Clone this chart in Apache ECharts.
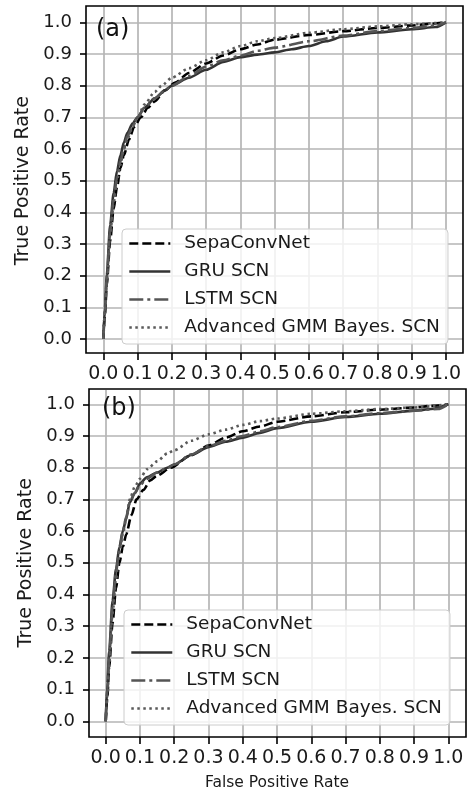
<!DOCTYPE html>
<html>
<head>
<meta charset="utf-8">
<script src="https://cdn.jsdelivr.net/npm/echarts@6/dist/echarts.min.js"></script>
<style>
html,body{margin:0;padding:0;background:#fff;}
#chart{width:471px;height:794px;}
</style>
</head>
<body>
<div id="chart"></div>
<script>
// ---------- data ----------
const seriesNames = ['SepaConvNet', 'GRU SCN', 'LSTM SCN', 'Advanced GMM Bayes. SCN'];
const panelLabels = ['(a)', '(b)'];
const xAxisTitle = 'False Positive Rate';
const yAxisTitle = 'True Positive Rate';

// panel (a)
const aSepaX = [0, 0.005, 0.01, 0.02, 0.03, 0.04, 0.05, 0.06, 0.075, 0.09, 0.11, 0.13, 0.15, 0.18, 0.21, 0.25, 0.3, 0.35, 0.4, 0.45, 0.5, 0.6, 0.7, 0.8, 0.9, 0.95, 1];
const aSepaY = [0, 0.08, 0.17, 0.31, 0.41, 0.48, 0.54, 0.58, 0.63, 0.67, 0.70, 0.73, 0.75, 0.785, 0.81, 0.84, 0.87, 0.895, 0.915, 0.93, 0.945, 0.96, 0.972, 0.982, 0.99, 0.995, 1];
const aGruX = [0, 0.005, 0.01, 0.02, 0.03, 0.04, 0.05, 0.06, 0.07, 0.085, 0.1, 0.12, 0.15, 0.18, 0.2, 0.25, 0.3, 0.35, 0.4, 0.45, 0.5, 0.55, 0.6, 0.65, 0.7, 0.8, 0.9, 0.97, 1];
const aGruY = [0, 0.1, 0.2, 0.36, 0.46, 0.53, 0.58, 0.62, 0.65, 0.68, 0.70, 0.73, 0.76, 0.785, 0.80, 0.825, 0.85, 0.875, 0.89, 0.898, 0.905, 0.915, 0.925, 0.94, 0.955, 0.968, 0.978, 0.985, 1];
const aLstmX = [0, 0.005, 0.01, 0.02, 0.03, 0.04, 0.05, 0.06, 0.07, 0.085, 0.1, 0.12, 0.15, 0.18, 0.2, 0.25, 0.3, 0.35, 0.4, 0.45, 0.5, 0.6, 0.7, 0.8, 0.9, 0.97, 1];
const aLstmY = [0, 0.09, 0.19, 0.34, 0.44, 0.51, 0.56, 0.6, 0.64, 0.67, 0.70, 0.73, 0.76, 0.785, 0.80, 0.83, 0.86, 0.88, 0.895, 0.91, 0.92, 0.94, 0.958, 0.972, 0.982, 0.99, 1];
const aGmmX = [0, 0.005, 0.01, 0.02, 0.03, 0.04, 0.05, 0.06, 0.07, 0.085, 0.1, 0.12, 0.15, 0.17, 0.2, 0.25, 0.3, 0.35, 0.4, 0.45, 0.5, 0.6, 0.7, 0.8, 0.9, 1];
const aGmmY = [0, 0.09, 0.18, 0.33, 0.43, 0.5, 0.55, 0.6, 0.63, 0.67, 0.70, 0.74, 0.78, 0.80, 0.825, 0.855, 0.88, 0.905, 0.925, 0.94, 0.95, 0.967, 0.978, 0.987, 0.994, 1];

// panel (b)
const bSepaX = [0, 0.005, 0.01, 0.02, 0.03, 0.04, 0.05, 0.06, 0.075, 0.09, 0.11, 0.13, 0.15, 0.19, 0.25, 0.3, 0.35, 0.4, 0.45, 0.5, 0.6, 0.7, 0.8, 0.9, 0.95, 1];
const bSepaY = [0, 0.08, 0.17, 0.31, 0.42, 0.5, 0.55, 0.59, 0.65, 0.70, 0.73, 0.76, 0.775, 0.80, 0.84, 0.87, 0.895, 0.915, 0.93, 0.945, 0.962, 0.975, 0.983, 0.99, 0.995, 1];
const bGruX = [0, 0.005, 0.01, 0.02, 0.03, 0.04, 0.05, 0.06, 0.07, 0.085, 0.1, 0.12, 0.15, 0.18, 0.2, 0.25, 0.3, 0.35, 0.4, 0.45, 0.5, 0.6, 0.7, 0.8, 0.9, 0.95, 1];
const bGruY = [0, 0.12, 0.22, 0.38, 0.48, 0.55, 0.6, 0.64, 0.69, 0.72, 0.75, 0.77, 0.785, 0.8, 0.81, 0.84, 0.865, 0.882, 0.895, 0.91, 0.925, 0.945, 0.96, 0.97, 0.98, 0.985, 1];
const bLstmX = [0, 0.005, 0.01, 0.02, 0.03, 0.04, 0.05, 0.06, 0.07, 0.085, 0.1, 0.12, 0.15, 0.18, 0.2, 0.25, 0.3, 0.35, 0.4, 0.45, 0.5, 0.6, 0.7, 0.8, 0.9, 0.97, 1];
const bLstmY = [0, 0.1, 0.2, 0.36, 0.47, 0.54, 0.6, 0.645, 0.69, 0.72, 0.745, 0.765, 0.785, 0.8, 0.81, 0.842, 0.868, 0.885, 0.9, 0.915, 0.928, 0.948, 0.962, 0.972, 0.98, 0.985, 1];
const bGmmX = [0, 0.005, 0.01, 0.02, 0.03, 0.04, 0.05, 0.06, 0.07, 0.085, 0.1, 0.12, 0.15, 0.18, 0.2, 0.25, 0.3, 0.35, 0.4, 0.45, 0.5, 0.6, 0.7, 0.8, 0.9, 1];
const bGmmY = [0, 0.08, 0.18, 0.34, 0.45, 0.53, 0.59, 0.64, 0.7, 0.74, 0.765, 0.795, 0.82, 0.845, 0.855, 0.885, 0.905, 0.92, 0.935, 0.947, 0.955, 0.97, 0.978, 0.985, 0.99, 1];

// ---------- styling ----------
const FONT = 'DejaVu Sans';
const lineColors = ['#000000', '#333333', '#555555', '#5a5a5a'];
const lineTypes = [[9, 4], 'solid', [14, 4, 3, 4], [2.5, 3.5]];
const GRID_COLOR = '#b5b5b5';

const panels = [
  { frame: { left: 86, top: 6, width: 377, height: 347 },
    data:  { left: 103.3, top: 22.3, width: 342.7, height: 316.7 },
    legend: { left: 122, top: 229 },
    label: { left: 96, top: 18 },
    xs: [aSepaX, aGruX, aLstmX, aGmmX], ys: [aSepaY, aGruY, aLstmY, aGmmY],
    xName: '' },
  { frame: { left: 89, top: 389, width: 377, height: 348 },
    data:  { left: 105.7, top: 404.3, width: 342.6, height: 317 },
    legend: { left: 124, top: 610 },
    label: { left: 102, top: 397 },
    xs: [bSepaX, bGruX, bLstmX, bGmmX], ys: [bSepaY, bGruY, bLstmY, bGmmY],
    xName: xAxisTitle }
];

const grid = [], xAxis = [], yAxis = [], series = [], legend = [], graphic = [];
const hidden = (gi) => ({ gridIndex: gi, type: 'value', min: 0, max: 1, show: false });

panels.forEach((p, pi) => {
  const base = pi * 4;
  grid.push({ left: p.frame.left, top: p.frame.top, width: p.frame.width, height: p.frame.height,
              show: true, borderColor: '#000', borderWidth: 1.6, backgroundColor: 'transparent', z: 5 });
  xAxis.push(hidden(base)); yAxis.push(hidden(base));
  grid.push({ left: p.data.left, top: p.frame.top + 1, width: p.data.width, height: p.frame.height - 1 });
  xAxis.push({ gridIndex: base + 1, type: 'value', min: 0, max: 1, interval: 0.1,
    axisLine: { show: false, onZero: false },
    axisTick: { show: true, inside: false, length: 7, lineStyle: { color: '#000', width: 1.6 } },
    axisLabel: { show: true, margin: 12, fontSize: 19, color: '#1a1a1a', fontFamily: FONT,
                 formatter: v => v.toFixed(1) },
    splitLine: { show: true, lineStyle: { color: GRID_COLOR, width: 1.7 } },
    name: p.xName, nameLocation: 'middle', nameGap: 38,
    nameTextStyle: { fontSize: 15.5, color: '#1a1a1a', fontFamily: FONT } });
  yAxis.push(hidden(base + 1));
  grid.push({ left: p.frame.left, top: p.data.top, width: p.frame.width, height: p.data.height });
  xAxis.push(hidden(base + 2));
  yAxis.push({ gridIndex: base + 2, type: 'value', min: 0, max: 1, interval: 0.1,
    axisLine: { show: false, onZero: false },
    axisTick: { show: true, inside: false, length: 6, lineStyle: { color: '#000', width: 1.6 } },
    axisLabel: { show: true, margin: 14, fontSize: 18, color: '#1a1a1a', fontFamily: FONT,
                 formatter: v => v.toFixed(1) },
    splitLine: { show: true, lineStyle: { color: GRID_COLOR, width: 1.7 } },
    name: yAxisTitle, nameLocation: 'middle', nameGap: 51,
    nameTextStyle: { fontSize: 19, color: '#1a1a1a', fontFamily: FONT } });
  grid.push({ left: p.data.left, top: p.data.top, width: p.data.width, height: p.data.height });
  xAxis.push(hidden(base + 3)); yAxis.push(hidden(base + 3));

  seriesNames.forEach((name, si) => {
    series.push({
      name: name, type: 'line', xAxisIndex: base + 3, yAxisIndex: base + 3,
      data: p.xs[si].map((x, k) => [x, p.ys[si][k]]),
      symbol: 'none', showSymbol: false, smooth: 0.25, smoothMonotone: 'x', clip: false,
      lineStyle: { color: lineColors[si], width: 2.6, type: lineTypes[si], cap: 'butt' },
      itemStyle: { color: lineColors[si] },
      z: 3 + si, animation: false
    });
  });

  legend.push({
    left: p.legend.left, top: p.legend.top, orient: 'vertical', data: seriesNames,
    itemWidth: 41, itemHeight: 14, itemGap: 9, padding: [5, 8, 7, 6],
    backgroundColor: 'rgba(255,255,255,0.8)', borderColor: '#cccccc', borderWidth: 1, borderRadius: 4,
    selectedMode: false, z: 10,
    itemStyle: { opacity: 0, borderWidth: 0 },
    lineStyle: { width: 2.6 },
    textStyle: { fontSize: 18.5, color: '#1a1a1a', fontFamily: FONT, padding: [0, 0, 0, 9] }
  });

  graphic.push({ type: 'text', left: p.label.left, top: p.label.top, z: 20,
    style: { text: panelLabels[pi], fontSize: 24, fill: '#111', fontFamily: FONT } });
});

const chart = echarts.init(document.getElementById('chart'), null, { renderer: 'canvas' });
chart.setOption({ animation: false, backgroundColor: '#fff', grid, xAxis, yAxis, series, legend, graphic });
</script>
</body>
</html>
